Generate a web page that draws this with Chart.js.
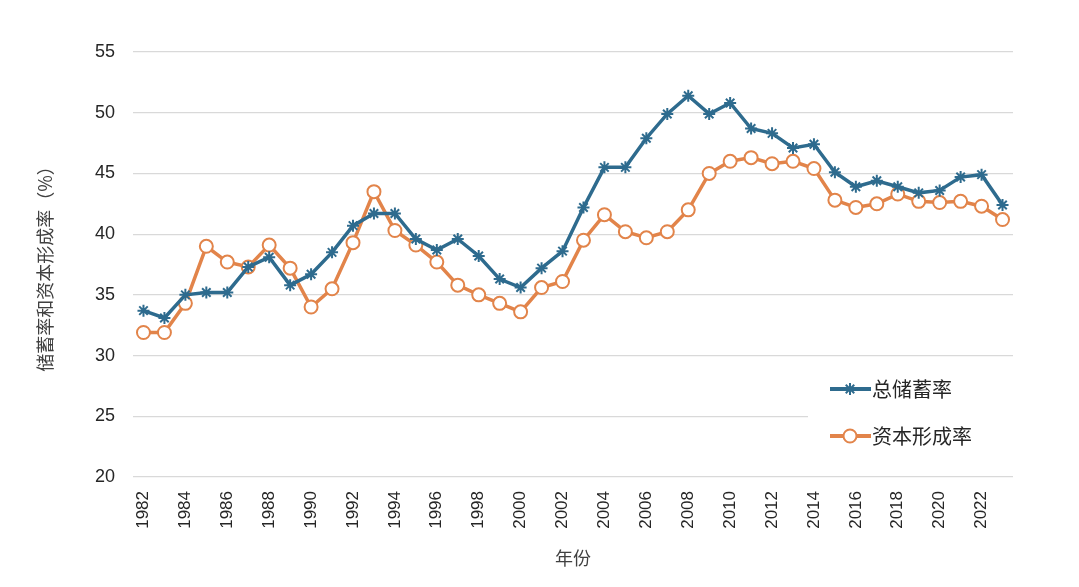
<!DOCTYPE html>
<html>
<head>
<meta charset="utf-8">
<script src="https://cdn.jsdelivr.net/npm/chart.js@4/dist/chart.umd.min.js"></script>
<style>
  html, body { margin: 0; padding: 0; background: #fff; }
  #wrap { width: 1079px; height: 587px; }
</style>
</head>
<body>
<div id="wrap"><canvas id="chart" width="1079" height="587"></canvas></div>
<script>
const years = [];
for (let y = 1982; y <= 2023; y++) years.push(String(y));

const savingRate = [
  33.7, 33.1, 35.0, 35.2, 35.2, 37.3, 38.1, 35.8, 36.7, 38.5,
  40.7, 41.7, 41.7, 39.6, 38.7, 39.6, 38.2, 36.3, 35.6, 37.2,
  38.6, 42.2, 45.5, 45.5, 47.9, 49.9, 51.4, 49.9, 50.8, 48.7,
  48.3, 47.1, 47.4, 45.1, 43.9, 44.4, 43.9, 43.4, 43.6, 44.7,
  44.9, 42.4
];

const capitalRate = [
  31.9, 31.9, 34.3, 39.0, 37.7, 37.3, 39.1, 37.2, 34.0, 35.5,
  39.3, 43.5, 40.3, 39.1, 37.7, 35.8, 35.0, 34.3, 33.6, 35.6,
  36.1, 39.5, 41.6, 40.2, 39.7, 40.2, 42.0, 45.0, 46.0, 46.3,
  45.8, 46.0, 45.4, 42.8, 42.2, 42.5, 43.3, 42.7, 42.6, 42.7,
  42.3, 41.2
];

const seriesNames = ['总储蓄率', '资本形成率'];
const blue = '#2e6b8e';
const orange = '#e2844a';
const numFont = '"Liberation Sans", Arial, sans-serif';
const cjkFont = '"Noto Sans CJK SC", "Noto Sans", sans-serif';

// legend with line + marker sample, boxed in white inside the plot
const lineLegend = {
  id: 'lineLegend',
  afterDraw(chart) {
    const ctx = chart.ctx;
    const area = chart.chartArea;
    const x0 = area.right - 205;
    const y0 = area.bottom - 118;
    ctx.save();
    ctx.fillStyle = '#fff';
    ctx.fillRect(x0, y0, 205, 112);
    chart.data.datasets.forEach((ds, i) => {
      const cy = y0 + 30 + i * 47;
      ctx.strokeStyle = ds.borderColor;
      ctx.lineWidth = 4;
      ctx.beginPath();
      ctx.moveTo(x0 + 22, cy);
      ctx.lineTo(x0 + 63, cy);
      ctx.stroke();
      ctx.fillStyle = ds.pointBackgroundColor;
      ctx.strokeStyle = ds.pointBorderColor;
      ctx.lineWidth = ds.pointBorderWidth;
      Chart.helpers.drawPoint(ctx, {
        pointStyle: ds.pointStyle,
        radius: ds.pointRadius,
        borderWidth: ds.pointBorderWidth,
        rotation: 0
      }, x0 + 42, cy);
      ctx.fillStyle = '#262626';
      ctx.font = '20px ' + cjkFont;
      ctx.textBaseline = 'middle';
      ctx.textAlign = 'left';
      ctx.fillText(ds.label, x0 + 64, cy);
    });
    ctx.restore();
  }
};

new Chart(document.getElementById('chart'), {
  type: 'line',
  data: {
    labels: years,
    datasets: [
      {
        label: seriesNames[0],
        data: savingRate,
        borderColor: blue,
        backgroundColor: blue,
        borderWidth: 3.5,
        tension: 0,
        pointStyle: 'star',
        pointRadius: 6,
        pointBorderWidth: 2,
        pointBorderColor: blue,
        pointBackgroundColor: blue
      },
      {
        label: seriesNames[1],
        data: capitalRate,
        borderColor: orange,
        backgroundColor: '#fff',
        borderWidth: 3.5,
        tension: 0,
        pointStyle: 'circle',
        pointRadius: 6.5,
        pointBorderWidth: 2,
        pointBorderColor: orange,
        pointBackgroundColor: '#fff'
      }
    ]
  },
  options: {
    responsive: false,
    animation: false,
    layout: { padding: { left: 30, right: 66, top: 52, bottom: 14 } },
    plugins: {
      legend: { display: false },
      tooltip: { enabled: false }
    },
    scales: {
      x: {
        offset: true,
        afterFit: s => { s.height = 96; },
        grid: { display: false },
        border: { display: false },
        ticks: {
          autoSkip: false,
          maxRotation: 90,
          minRotation: 90,
          padding: 6,
          color: '#262626',
          font: { family: numFont, size: 17 },
          callback: function (v, i) {
            const y = years[i];
            return Number(y) % 2 === 0 ? y : '';
          }
        },
        title: {
          display: true,
          text: '年份',
          color: '#404040',
          font: { family: cjkFont, size: 18 },
          padding: { top: 10 }
        }
      },
      y: {
        min: 20,
        max: 55,
        afterFit: s => { s.width = 103; },
        grid: { color: '#d9d9d9', lineWidth: 1.2, drawTicks: false },
        border: { display: false },
        ticks: {
          stepSize: 5,
          padding: 18,
          color: '#262626',
          font: { family: numFont, size: 18 }
        },
        title: {
          display: true,
          text: '储蓄率和资本形成率（%）',
          color: '#404040',
          font: { family: cjkFont, size: 18 },
          padding: { bottom: 6 }
        }
      }
    }
  },
  plugins: [lineLegend]
});
</script>
</body>
</html>
